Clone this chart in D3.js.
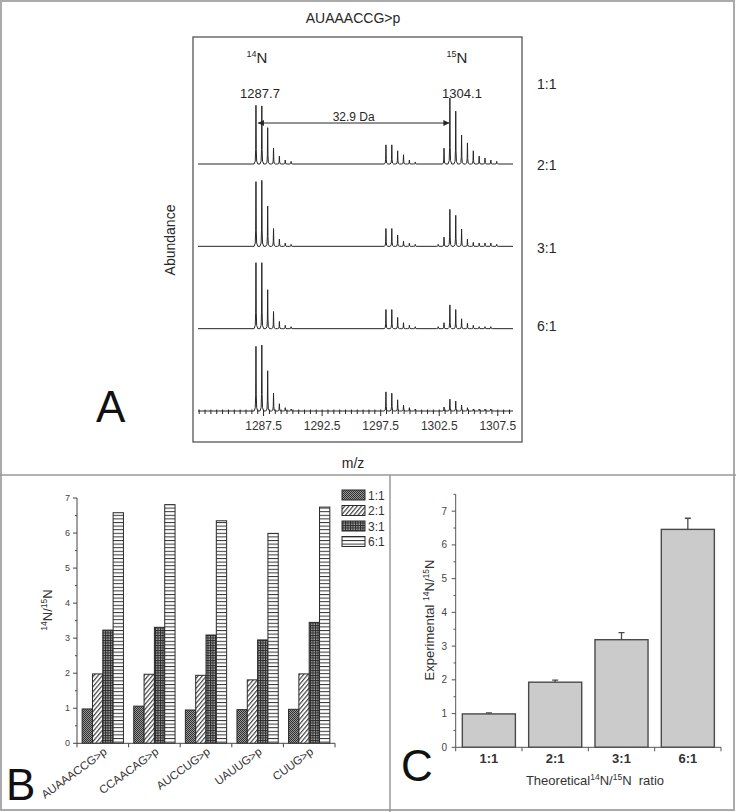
<!DOCTYPE html>
<html><head><meta charset="utf-8">
<script src="https://cdn.jsdelivr.net/npm/d3@7"></script>
<style>body{margin:0;background:#fff}svg{display:block;font-family:"Liberation Sans",Arial,sans-serif}</style>
</head><body><svg id="c" width="736" height="812"></svg>
<script>
// ---------- Panel A data ----------
const spectrumTitle = "AUAAACCG>p";
const mzDomain = [1281.9, 1308.8];
const mzTickLabels = [1287.5, 1292.5, 1297.5, 1302.5, 1307.5];
const ratios = ["1:1", "2:1", "3:1", "6:1"];
const mz14 = [1286.85, 1287.35, 1287.85, 1288.35, 1288.85, 1289.35, 1289.85];
const mzMid = [1297.95, 1298.45, 1298.95, 1299.45, 1299.95, 1300.45];
const mz15 = [1302.41, 1302.91, 1303.41, 1303.91, 1304.41, 1304.91, 1305.41, 1305.91, 1306.41, 1306.91, 1307.41];
const abund14 = [[89,88,55,24,12,6,4],[98,100,61,27,11,5,3],[100,100,59,26,11,5,3],[98,100,61,27,11,5,3]];
const abundMid = [[29,29,20,14,6,3],[27,27,17,8,5,3],[29,29,17,9,5,3],[29,27,17,9,5,3]];
const abund15 = [[0,24,100,80,44,32,20,12,9,6,4],[3,14,56,47,26,11,6,5,5,5,3],[3,9,36,29,15,8,5,3,3,3,0],[0,6,18,15,9,5,3,3,3,3,0]];
const peakLabels = ["1287.7", "1304.1"];
const shiftLabel = "32.9 Da";

// ---------- Panel B data ----------
const seqs = ["AUAAACCG>p", "CCAACAG>p", "AUCCUG>p", "UAUUG>p", "CUUG>p"];
const b11 = [0.98, 1.06, 0.95, 0.96, 0.97];
const b21 = [1.98, 1.97, 1.94, 1.81, 1.98];
const b31 = [3.23, 3.31, 3.09, 2.95, 3.45];
const b61 = [6.58, 6.81, 6.35, 5.99, 6.74];
const bTicks = [0, 1, 2, 3, 4, 5, 6, 7];

// ---------- Panel C data ----------
const theo = ["1:1", "2:1", "3:1", "6:1"];
const expMean = [0.99, 1.93, 3.19, 6.46];
const expErr = [0.03, 0.06, 0.21, 0.33];
const cTicks = [0, 1, 2, 3, 4, 5, 6, 7];

const svg = d3.select("#c");
const ink = "#262626";

// frame & dividers
svg.append("rect").attr("x",1).attr("y",1).attr("width",733).attr("height",809)
  .attr("fill","none").attr("stroke","#aaa").attr("stroke-width",2);
svg.append("line").attr("x1",0).attr("x2",736).attr("y1",475).attr("y2",475).attr("stroke","#999").attr("stroke-width",1.5);
svg.append("line").attr("x1",390).attr("x2",390).attr("y1",475).attr("y2",812).attr("stroke","#999").attr("stroke-width",1.5);

// patterns
const defs = svg.append("defs");
let p = defs.append("pattern").attr("id","p11").attr("patternUnits","userSpaceOnUse").attr("width",2).attr("height",2);
p.append("rect").attr("width",2).attr("height",2).attr("fill","#9a9a9a");
p.append("rect").attr("width",1).attr("height",1).attr("fill","#2e2e2e");
p.append("rect").attr("x",1).attr("y",1).attr("width",1).attr("height",1).attr("fill","#2e2e2e");
p = defs.append("pattern").attr("id","p21").attr("patternUnits","userSpaceOnUse").attr("width",3.2).attr("height",3.2).attr("patternTransform","rotate(40)");
p.append("rect").attr("width",3.2).attr("height",3.2).attr("fill","#fff");
p.append("line").attr("x1",0.6).attr("x2",0.6).attr("y1",0).attr("y2",3.2).attr("stroke","#333").attr("stroke-width",1.1);
p = defs.append("pattern").attr("id","p31").attr("patternUnits","userSpaceOnUse").attr("width",2.5).attr("height",2.5);
p.append("rect").attr("width",2.5).attr("height",2.5).attr("fill","#a8a8a8");
p.append("rect").attr("width",2.5).attr("height",1).attr("fill","#2a2a2a");
p.append("rect").attr("width",1).attr("height",2.5).attr("fill","#2a2a2a");
p = defs.append("pattern").attr("id","p61").attr("patternUnits","userSpaceOnUse").attr("width",10).attr("height",3.6);
p.append("rect").attr("width",10).attr("height",3.6).attr("fill","#fff");
p.append("line").attr("x1",0).attr("x2",10).attr("y1",0.5).attr("y2",0.5).attr("stroke","#333").attr("stroke-width",1);
const pats = ["url(#p11)","url(#p21)","url(#p31)","url(#p61)"];

// =============== PANEL A ===============
svg.append("rect").attr("x",193).attr("y",37).attr("width",329).attr("height",405)
  .attr("fill","none").attr("stroke","#555").attr("stroke-width",1.3);
svg.append("text").attr("x",353).attr("y",23).attr("text-anchor","middle").attr("font-size",14).attr("fill",ink).text(spectrumTitle);

const x = d3.scaleLinear().domain(mzDomain).range([198, 513]);
const row = d3.scalePoint().domain(ratios).range([164, 411]);
const h = d3.scaleLinear().domain([0, 100]).range([0, 66]);
const shape = [[-0.16,0],[-0.06,0.05],[-0.025,0.25],[0,1],[0.025,0.25],[0.06,0.05],[0.16,0]];

ratios.forEach((r, i) => {
  const base = row(r);
  const peaks = [];
  mz14.forEach((m, j) => peaks.push([m, abund14[i][j]]));
  mzMid.forEach((m, j) => peaks.push([m, abundMid[i][j]]));
  mz15.forEach((m, j) => peaks.push([m, abund15[i][j]]));
  const pts = [[mzDomain[0], 0]];
  peaks.filter(d => d[1] > 0).forEach(([m, a]) => shape.forEach(([dm, f]) => pts.push([m + dm, a * f])));
  pts.push([mzDomain[1], 0]);
  const line = d3.line().x(d => x(d[0])).y(d => base - h(d[1]));
  svg.append("path").attr("d", line(pts)).attr("fill","none").attr("stroke",ink).attr("stroke-width",1);
  svg.append("text").attr("x",537).attr("y",(i===0?89:(i===3?base-80:base-76))).attr("font-size",14).attr("fill",ink).text(r);
});

// bottom axis
const axY = row(ratios[3]);
const minor = d3.range(1282, 1308.6, 0.5);
svg.append("g").selectAll("line").data(minor).join("line")
  .attr("x1", d => x(d)).attr("x2", d => x(d))
  .attr("y1", axY - 1.5).attr("y2", d => axY + (mzTickLabels.includes(d) ? 5 : 3))
  .attr("stroke", ink).attr("stroke-width", 1);
svg.append("g").selectAll("text").data(mzTickLabels).join("text")
  .attr("x", d => x(d)).attr("y", 430).attr("text-anchor","middle").attr("font-size",12).attr("fill","#333")
  .text(d => d.toFixed(1));

// labels 14N / 15N
function isoLabel(cx, y, sup, main, fs, ss) {
  const t = svg.append("text").attr("x",cx).attr("y",y).attr("text-anchor","middle").attr("font-size",fs).attr("fill",ink);
  t.append("tspan").attr("font-size",ss).attr("dy",-fs*0.4).text(sup);
  t.append("tspan").attr("dy",fs*0.4).text(main);
  return t;
}
isoLabel(257, 63, "14", "N", 15, 9);
isoLabel(457, 63, "15", "N", 15, 9);
svg.append("text").attr("x",260).attr("y",98).attr("text-anchor","middle").attr("font-size",13).attr("fill",ink).text(peakLabels[0]);
svg.append("text").attr("x",462).attr("y",98).attr("text-anchor","middle").attr("font-size",13).attr("fill",ink).text(peakLabels[1]);
// arrow
const ax1 = x(mz14[0]) + 2, ax2 = x(mz15[2]) - 0.5, ay = 123;
svg.append("line").attr("x1",ax1).attr("x2",ax2).attr("y1",ay).attr("y2",ay).attr("stroke",ink).attr("stroke-width",1);
svg.append("path").attr("d",`M${ax1},${ay} l6,-3 l0,6 Z`).attr("fill",ink);
svg.append("path").attr("d",`M${ax2},${ay} l-6,-3 l0,6 Z`).attr("fill",ink);
svg.append("text").attr("x",(ax1+ax2)/2).attr("y",ay-2).attr("text-anchor","middle").attr("font-size",12).attr("fill",ink).text(shiftLabel);

svg.append("text").attr("transform","translate(175,240) rotate(-90)").attr("text-anchor","middle").attr("font-size",14).attr("fill",ink).text("Abundance");
svg.append("text").attr("x",353).attr("y",468).attr("text-anchor","middle").attr("font-size",14).attr("fill",ink).text("m/z");
svg.append("text").attr("x",96).attr("y",422).attr("font-size",44).attr("fill","#111").text("A");

// =============== PANEL B ===============
const bx = d3.scaleBand().domain(seqs).range([77, 335]).paddingInner(0.2).paddingOuter(0.1);
const by = d3.scaleLinear().domain([0, 7]).range([743.3, 498]);
const bs = d3.scaleBand().domain(ratios).range([0, bx.bandwidth()]);
const bSeries = [b11, b21, b31, b61];
const gB = svg.append("g");
ratios.forEach((r, k) => {
  gB.append("g").selectAll("rect").data(seqs).join("rect")
    .attr("x", d => bx(d) + bs(r)).attr("width", bs.bandwidth())
    .attr("y", (d, i) => by(bSeries[k][i])).attr("height", (d, i) => by(0) - by(bSeries[k][i]))
    .attr("fill", pats[k]).attr("stroke", "#2a2a2a").attr("stroke-width", 1);
});
// axes
gB.append("line").attr("x1",77).attr("x2",77).attr("y1",by(0)).attr("y2",by(7)).attr("stroke","#444");
gB.append("line").attr("x1",77).attr("x2",335).attr("y1",by(0)).attr("y2",by(0)).attr("stroke","#444");
gB.selectAll(".bmin").data(d3.range(0.5, 7, 1)).join("line").attr("x1",75).attr("x2",77).attr("y1",d=>by(d)).attr("y2",d=>by(d)).attr("stroke","#444");
gB.selectAll(".bmaj").data(bTicks).join("line").attr("x1",73).attr("x2",77).attr("y1",d=>by(d)).attr("y2",d=>by(d)).attr("stroke","#444");
gB.selectAll(".blab").data(bTicks).join("text").attr("x",70).attr("y",d=>by(d)+3).attr("text-anchor","end").attr("font-size",9).attr("fill","#444").text(d=>d);
const bBounds = [77].concat(seqs.map(s => bx(s) + bx.bandwidth() + bx.step()*bx.paddingInner()/2));
gB.selectAll(".bxt").data(bBounds).join("line").attr("x1",d=>d).attr("x2",d=>d).attr("y1",by(0)).attr("y2",by(0)+4).attr("stroke","#444");
gB.selectAll(".bxl").data(seqs).join("text")
  .attr("transform", d => `translate(${bx(d)+bx.bandwidth()/2+5},${by(0)+10}) rotate(-36)`)
  .attr("text-anchor","end").attr("font-size",11.5).attr("fill","#333").text(d=>d);
// y label
{
  const t = gB.append("text").attr("transform","translate(52,610) rotate(-90)").attr("text-anchor","middle").attr("font-size",13).attr("fill","#333");
  t.append("tspan").attr("font-size",8.5).attr("dy",-5).text("14");
  t.append("tspan").attr("dy",5).text("N/");
  t.append("tspan").attr("font-size",8.5).attr("dy",-5).text("15");
  t.append("tspan").attr("dy",5).text("N");
}
// legend
ratios.forEach((r, k) => {
  const cy = 495 + k * 15.5;
  gB.append("rect").attr("x",342).attr("y",cy-5).attr("width",23).attr("height",10).attr("fill",pats[k]).attr("stroke","#2a2a2a").attr("stroke-width",1);
  gB.append("text").attr("x",368).attr("y",cy+4.5).attr("font-size",12).attr("fill","#333").text(r);
});
svg.append("text").attr("x",6).attr("y",800).attr("font-size",44).attr("fill","#111").text("B");

// =============== PANEL C ===============
const cx = d3.scaleBand().domain(theo).range([455.7, 721]).paddingInner(0.2).paddingOuter(0.1);
const cy = d3.scaleLinear().domain([0, 7.5]).range([747.3, 494.3]);
const gC = svg.append("g");
gC.selectAll(".cb").data(theo).join("rect")
  .attr("x", d => cx(d)).attr("width", cx.bandwidth())
  .attr("y", (d, i) => cy(expMean[i])).attr("height", (d, i) => cy(0) - cy(expMean[i]))
  .attr("fill", "#cbcbcb").attr("stroke", "#4a4a4a").attr("stroke-width", 1.4);
gC.selectAll(".ce").data(theo).join("path")
  .attr("d", (d, i) => { const xm = cx(d) + cx.bandwidth()/2; const y1 = cy(expMean[i]), y2 = cy(expMean[i] + expErr[i]);
    return `M${xm},${y1}V${y2}M${xm-3},${y2}H${xm+3}`; })
  .attr("fill","none").attr("stroke","#4a4a4a").attr("stroke-width",1.3);
gC.append("line").attr("x1",455.7).attr("x2",455.7).attr("y1",cy(0)).attr("y2",cy(7.5)).attr("stroke","#555");
gC.append("line").attr("x1",455.7).attr("x2",721).attr("y1",cy(0)).attr("y2",cy(0)).attr("stroke","#555");
gC.selectAll(".cmin").data(d3.range(0.5, 7.6, 1)).join("line").attr("x1",453.5).attr("x2",455.7).attr("y1",d=>cy(d)).attr("y2",d=>cy(d)).attr("stroke","#555");
gC.selectAll(".cmaj").data(cTicks).join("line").attr("x1",451.7).attr("x2",455.7).attr("y1",d=>cy(d)).attr("y2",d=>cy(d)).attr("stroke","#555");
gC.selectAll(".clab").data(cTicks).join("text").attr("x",447).attr("y",d=>cy(d)+3.5).attr("text-anchor","end").attr("font-size",10).attr("fill","#444").text(d=>d);
const cBounds = [455.7].concat(theo.map(s => cx(s) + cx.bandwidth() + cx.step()*cx.paddingInner()/2));
gC.selectAll(".cxt").data(cBounds).join("line").attr("x1",d=>d).attr("x2",d=>d).attr("y1",cy(0)).attr("y2",cy(0)+4).attr("stroke","#555");
gC.selectAll(".cxl").data(theo).join("text").attr("x", d => cx(d)+cx.bandwidth()/2).attr("y", 763)
  .attr("text-anchor","middle").attr("font-size",13).attr("font-weight","bold").attr("fill","#333").text(d=>d);
{
  const t = gC.append("text").attr("x",595).attr("y",785).attr("text-anchor","middle").attr("font-size",13).attr("fill","#333");
  t.append("tspan").text("Theoretical");
  t.append("tspan").attr("font-size",8.5).attr("dy",-5).text("14");
  t.append("tspan").attr("dy",5).text("N/");
  t.append("tspan").attr("font-size",8.5).attr("dy",-5).text("15");
  t.append("tspan").attr("dy",5).text("N  ratio").attr("xml:space","preserve");
}
{
  const t = gC.append("text").attr("transform","translate(434,620) rotate(-90)").attr("text-anchor","middle").attr("font-size",13).attr("fill","#333");
  t.append("tspan").text("Experimental ");
  t.append("tspan").attr("font-size",8.5).attr("dy",-5).text("14");
  t.append("tspan").attr("dy",5).text("N/");
  t.append("tspan").attr("font-size",8.5).attr("dy",-5).text("15");
  t.append("tspan").attr("dy",5).text("N");
}
svg.append("text").attr("x",401).attr("y",781).attr("font-size",44).attr("fill","#111").text("C");
</script></body></html>
